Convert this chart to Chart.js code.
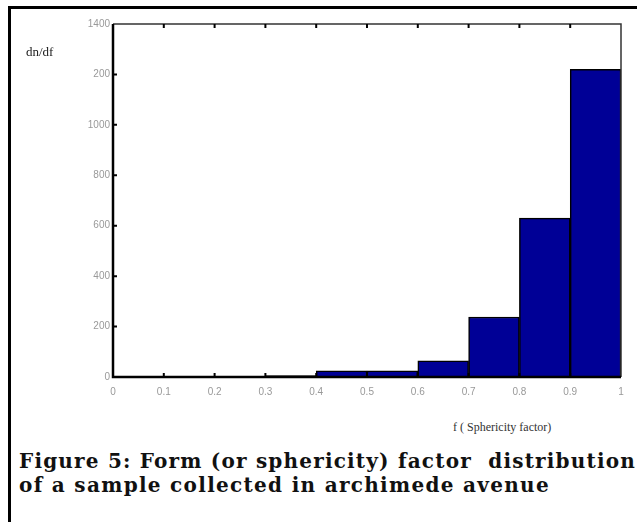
<!DOCTYPE html>
<html>
<head>
<meta charset="utf-8">
<script src="https://cdn.jsdelivr.net/npm/chart.js@4.4.1/dist/chart.umd.min.js"></script>
<style>
  html, body { margin: 0; padding: 0; background: #fff; }
  #frame { position: relative; width: 637px; height: 522px; overflow: hidden; }
  #box { position: absolute; left: 8px; top: 6px; width: 640px; height: 530px;
         border-left: 3px solid #000; border-top: 3px solid #000; }
  #wrap { position: absolute; left: 0; top: 0; width: 637px; height: 400px; }
  .lbl { position: absolute; font-family: "Liberation Serif", serif; color: #222; white-space: nowrap; }
  #ylab { left: 26px; top: 44px; font-size: 13px; }
  #xlab { left: 453px; top: 420px; font-size: 12px; color: #333; }
  .cap { position: absolute; left: 19px; font-family: "DejaVu Serif", serif; font-weight: bold;
         font-size: 20px; color: #111; white-space: nowrap; }
  #cap1 { top: 449px; }
  #cap2 { top: 473px; }
</style>
</head>
<body>
<div id="frame">
  <div id="box"></div>
  <div id="wrap"><canvas id="chart"></canvas></div>
  <div class="lbl" id="ylab">dn/df</div>
  <div class="lbl" id="xlab">f ( Sphericity factor)</div>
  <div class="cap" id="cap1">Figure 5: Form (or sphericity) factor&nbsp; distribution</div>
  <div class="cap" id="cap2">of a sample collected in archimede avenue</div>
</div>
<script>
// bin centres of the histogram (sphericity factor)
const binCenters = [0.05, 0.15, 0.25, 0.35, 0.45, 0.55, 0.65, 0.75, 0.85, 0.95];
const counts = [0, 0, 0, 6, 24, 24, 64, 238, 630, 1220];

// tick labels as they appear on the figure
const xTickLabels = ['0', '0.1', '0.2', '0.3', '0.4', '0.5', '0.6', '0.7', '0.8', '0.9', '1'];
const yTickLabels = ['0', '200', '400', '600', '800', '1000', '200', '1400'];

// fit caption lines to the widths in the figure
function fitLine(id, target) {
    const el = document.getElementById(id);
    const w = el.getBoundingClientRect().width;
    const n = el.textContent.length;
    el.style.letterSpacing = ((target - w) / n) + 'px';
}
fitLine('cap1', 617);
fitLine('cap2', 531);

// inward tick marks + frame, like matlab
const frameTicks = {
    id: 'frameTicks',
    afterDatasetsDraw(chart) {
        const { ctx, chartArea: a, scales: { x, y } } = chart;
        ctx.save();
        ctx.strokeStyle = '#333';
        ctx.lineWidth = 1.5;
        ctx.beginPath();
        ctx.moveTo(a.left, a.top);
        ctx.lineTo(a.right, a.top);
        ctx.lineTo(a.right, a.bottom);
        ctx.stroke();
        ctx.strokeStyle = '#000';
        ctx.lineWidth = 2;
        ctx.beginPath();
        for (let i = 1; i < xTickLabels.length - 1; i++) {
            const px = x.getPixelForValue(i / 10);
            ctx.moveTo(px, a.bottom); ctx.lineTo(px, a.bottom - 4);
            ctx.moveTo(px, a.top); ctx.lineTo(px, a.top + 4);
        }
        for (let i = 1; i < yTickLabels.length - 1; i++) {
            const py = y.getPixelForValue(i * 200);
            ctx.moveTo(a.left, py); ctx.lineTo(a.left + 4, py);
        }
        ctx.stroke();
        ctx.lineWidth = 2.5;
        ctx.beginPath();
        ctx.moveTo(a.left, a.top);
        ctx.lineTo(a.left, a.bottom);
        ctx.lineTo(a.right, a.bottom);
        ctx.stroke();
        ctx.restore();
    }
};

new Chart(document.getElementById('chart'), {
    type: 'bar',
    data: {
        datasets: [{
            data: binCenters.map((c, i) => ({ x: c, y: counts[i] })),
            backgroundColor: '#000096',
            borderColor: '#000',
            borderWidth: 1.5,
            barPercentage: 1,
            categoryPercentage: 1
        }]
    },
    options: {
        responsive: true,
        maintainAspectRatio: false,
        animation: false,
        layout: { padding: { top: 24, right: 16, left: 0, bottom: 0 } },
        plugins: { legend: { display: false }, tooltip: { enabled: false } },
        scales: {
            x: {
                type: 'linear',
                min: 0, max: 1,
                offset: false,
                afterFit: s => { s.height = 23; },
                grid: { display: false, drawTicks: false },
                border: { display: false },
                ticks: {
                    stepSize: 0.1,
                    padding: 9,
                    color: '#999',
                    font: { family: 'Liberation Sans', size: 10 },
                    callback: (v) => xTickLabels[Math.round(v * 10)]
                }
            },
            y: {
                min: 0, max: 1400,
                afterFit: s => { s.width = 113; },
                grid: { display: false, drawTicks: false },
                border: { display: false },
                ticks: {
                    stepSize: 200,
                    padding: 3,
                    color: '#999',
                    font: { family: 'Liberation Sans', size: 10 },
                    callback: (v) => yTickLabels[Math.round(v / 200)]
                }
            }
        }
    },
    plugins: [frameTicks]
});
</script>
</body>
</html>
